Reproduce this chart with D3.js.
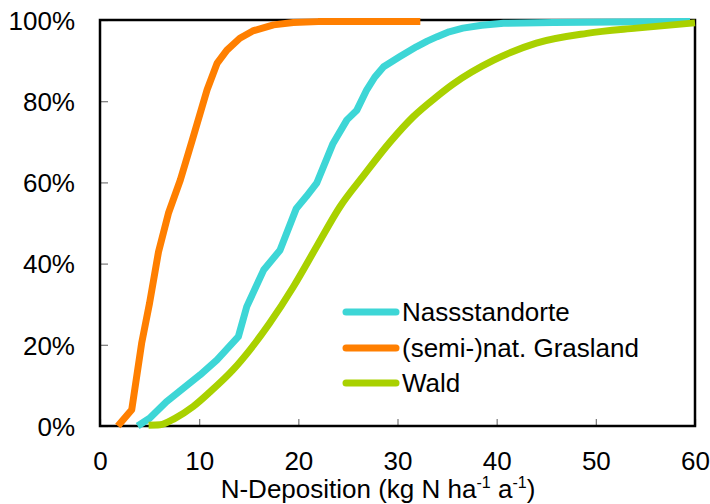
<!DOCTYPE html>
<html><head><meta charset="utf-8">
<script src="https://cdn.jsdelivr.net/npm/d3@7"></script>
<style>body{margin:0;background:#fff}svg{display:block;font-family:"Liberation Sans",Arial,sans-serif}</style>
</head><body>
<svg id="c" width="710" height="504"></svg>
<script>
const seriesNames = ["Nassstandorte", "(semi-)nat. Grasland", "Wald"];
const seriesColors = ["#3dd6d6", "#ff7f00", "#a9d100"];
const nassX = [3.8, 5.0, 6.7, 8.4, 10.1, 11.8, 13.95, 14.8, 16.5, 18.15, 19.8, 20.8, 21.85, 23.5, 24.9, 25.9, 26.9, 27.7, 28.6, 30.25, 31.9, 33.0, 34.0, 35.2, 36.6, 38.5, 40.7, 45.7, 52, 59.5];
const nassY = [0, 1.9, 6, 9.3, 12.6, 16.3, 22, 29.4, 38.4, 43.3, 53.6, 56.5, 59.8, 69.6, 75.4, 77.8, 82.8, 85.9, 88.5, 91, 93.4, 94.8, 95.9, 97.1, 98, 98.7, 99.2, 99.4, 99.5, 99.6];
const grasX = [1.8, 3.2, 4.2, 5.0, 5.9, 6.9, 8.1, 9.3, 10.8, 11.8, 12.8, 14.1, 15.4, 17.5, 19.5, 22, 32.3];
const grasY = [0, 4, 20.4, 30.3, 42.9, 52.4, 60.6, 70.4, 82.8, 89.3, 92.6, 95.5, 97.3, 98.8, 99.4, 99.6, 99.6];
const waldX = [4.9, 6.05, 7.56, 9.4, 11.1, 13.4, 15.1, 17.1, 19.5, 21.85, 24.2, 26.55, 29.2, 31.6, 33.95, 35.6, 39.7, 44.0, 49.1, 54.1, 60];
const waldY = [0.2, 0.3, 1.9, 4.8, 8.4, 13.8, 18.7, 25.3, 34.3, 44.2, 54, 61.6, 69.8, 76.2, 81.1, 84.2, 90.1, 94.3, 96.7, 98, 99.3];
const xTicks = [0, 10, 20, 30, 40, 50, 60];
const yTicks = [0, 20, 40, 60, 80, 100];

const svg = d3.select("#c");
const L = 100, R = 695, T = 20, B = 426;
const FS = 26;
const x = d3.scaleLinear().domain([0, 60]).range([L, R]);
const y = d3.scaleLinear().domain([0, 100]).range([B, T]);

const gx = svg.append("g").attr("transform", `translate(0,${B})`)
  .call(d3.axisBottom(x).tickValues(xTicks).tickSizeInner(-7).tickSizeOuter(0).tickPadding(16).tickFormat(d3.format("d")));
gx.select(".domain").remove();
gx.selectAll("line").attr("stroke", "#777").attr("stroke-width", 1.2);
gx.selectAll("text").attr("font-size", FS).attr("fill", "#000").attr("dy", null).attr("y", 44).attr("font-family", "Liberation Sans, Arial, sans-serif");

const gy = svg.append("g").attr("transform", `translate(${L},0)`)
  .call(d3.axisLeft(y).tickValues(yTicks).tickSizeInner(-8).tickSizeOuter(0).tickPadding(25).tickFormat(d => d + "%"));
gy.select(".domain").remove();
gy.selectAll("line").attr("stroke", "#777").attr("stroke-width", 1.2);
gy.selectAll("text").attr("font-size", FS).attr("fill", "#000").attr("dy", "0.36em").attr("font-family", "Liberation Sans, Arial, sans-serif");

svg.append("rect").attr("x", L).attr("y", T).attr("width", R - L).attr("height", B - T)
  .attr("fill", "none").attr("stroke", "#000").attr("stroke-width", 2.5);

const curves = [d3.curveLinear, d3.curveLinear, d3.curveMonotoneX];
const series = [
  nassX.map((v, i) => [v, nassY[i]]),
  grasX.map((v, i) => [v, grasY[i]]),
  waldX.map((v, i) => [v, waldY[i]])
];
series.forEach((s, i) => {
  const line = d3.line().x(d => x(d[0])).y(d => y(d[1])).curve(curves[i]);
  svg.append("path").datum(s).attr("d", line).attr("fill", "none")
    .attr("stroke", seriesColors[i]).attr("stroke-width", 7)
    .attr("stroke-linejoin", "round").attr("stroke-linecap", "butt");
});

const legY = [312, 348, 383];
seriesNames.forEach((n, i) => {
  svg.append("line").attr("x1", 346).attr("x2", 396).attr("y1", legY[i]).attr("y2", legY[i])
    .attr("stroke", seriesColors[i]).attr("stroke-width", 7).attr("stroke-linecap", "round");
  svg.append("text").attr("x", 402).attr("y", legY[i]).attr("dy", "0.36em")
    .attr("font-size", FS).text(n);
});

const t = svg.append("text").attr("x", 378).attr("y", 498).attr("text-anchor", "middle").attr("font-size", FS);
t.append("tspan").text("N-Deposition (kg N ha");
t.append("tspan").attr("font-size", 16).attr("dy", -10).text("-1");
t.append("tspan").attr("dy", 10).text(" a");
t.append("tspan").attr("font-size", 16).attr("dy", -10).text("-1");
t.append("tspan").attr("dy", 10).text(")");
</script>
</body></html>
